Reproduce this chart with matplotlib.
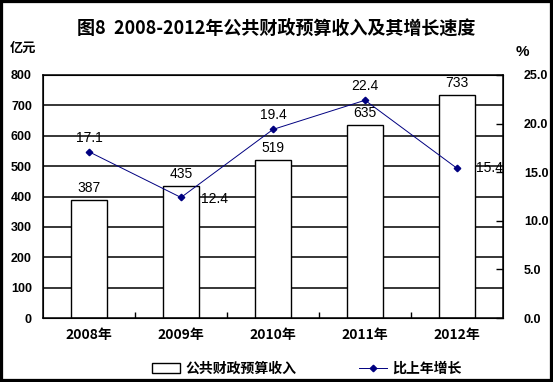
import matplotlib.pyplot as plt
from matplotlib.patches import Rectangle
from matplotlib.ticker import FixedLocator

plt.rcParams['font.family'] = ['Liberation Sans', 'Noto Sans CJK SC', 'DejaVu Sans']

years = ['2008年', '2009年', '2010年', '2011年', '2012年']
revenue = [387, 435, 519, 635, 733]
growth = [17.1, 12.4, 19.4, 22.4, 15.4]
left_ticks = [0, 100, 200, 300, 400, 500, 600, 700, 800]
right_ticks = [0.0, 5.0, 10.0, 15.0, 20.0, 25.0]

fig = plt.figure(figsize=(5.53, 3.82), dpi=100)
fig.patch.set_facecolor('white')
fig.patches.append(Rectangle((0, 0), 1, 1, transform=fig.transFigure,
                             fill=False, edgecolor='black', linewidth=4.5))

ax = fig.add_axes([0.0778, 0.1675, 0.8318, 0.6362])
x = list(range(len(years)))

ax.set_ylim(0, 800)
ax.set_xlim(-0.5, 4.5)
ax.set_yticks(left_ticks)
ax.set_yticklabels([str(t) for t in left_ticks], fontweight='bold', fontsize=9)
for t in left_ticks[1:]:
    ax.axhline(t, color='black', linewidth=1.1, zorder=1)

bars = ax.bar(x, revenue, width=0.4, color='white', edgecolor='black',
              linewidth=1.0, zorder=2, label='公共财政预算收入')
for xi, v in zip(x, revenue):
    ax.text(xi, v + 40, str(v), ha='center', va='center', fontsize=10, zorder=5)

ax.set_xticks(x)
ax.set_xticklabels(years, fontweight='bold', fontsize=10,
                   family=['Noto Sans CJK SC'])
ax.tick_params(axis='x', length=0, pad=7)
ax.xaxis.set_minor_locator(FixedLocator([0.5, 1.5, 2.5, 3.5]))
ax.tick_params(axis='x', which='minor', direction='in', length=4, width=1)
ax.tick_params(axis='y', length=0, pad=8)
for s in ax.spines.values():
    s.set_linewidth(1.1)

ax2 = ax.twinx()
ax2.set_ylim(0, 25)
ax2.set_yticks(right_ticks)
ax2.set_yticklabels(['%.1f' % t for t in right_ticks], fontweight='bold', fontsize=9)
ax2.tick_params(axis='y', direction='in', length=5, width=1, pad=15)
line, = ax2.plot(x, growth, color='#000080', linewidth=0.7, marker='D',
                 markersize=3.3, zorder=4, label='比上年增长')

offsets = [(0, 14, 'center'), (20, -2, 'left'), (0, 14, 'center'),
           (0, 14, 'center'), (19, 0, 'left')]
for xi, g, (dx, dy, ha) in zip(x, growth, offsets):
    ax2.annotate('%.1f' % g, (xi, g), xytext=(dx, dy), textcoords='offset pixels',
                 ha=ha, va='center', fontsize=10)

fig.text(0.5, 0.925, '图8  2008-2012年公共财政预算收入及其增长速度',
         ha='center', va='center', fontsize=13, fontweight='bold',
         family=['Noto Sans CJK SC'])
fig.text(0.018, 0.875, '亿元', ha='left', va='center', fontsize=9.5,
         fontweight='bold', family=['Noto Sans CJK SC'])
fig.text(0.945, 0.865, '%', ha='center', va='center', fontsize=11,
         fontweight='bold')

leg = fig.legend(handles=[bars, line], loc='center', bbox_to_anchor=(0.555, 0.035),
                 ncol=2, frameon=False, columnspacing=4.5,
                 handlelength=2.0, handletextpad=0.4,
                 prop={'family': ['Noto Sans CJK SC'], 'weight': 'bold', 'size': 10})

fig.savefig('out.png', dpi=100)
